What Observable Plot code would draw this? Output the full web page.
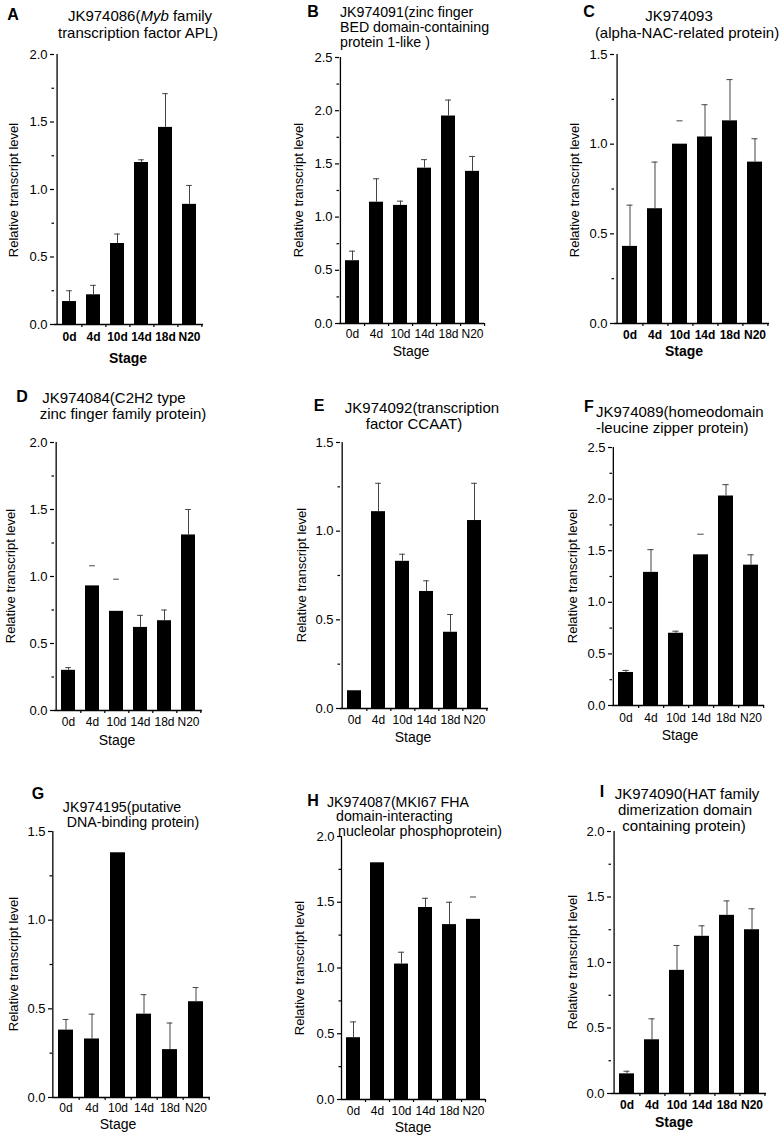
<!DOCTYPE html>
<html><head><meta charset="utf-8">
<script src="https://cdn.jsdelivr.net/npm/d3@7"></script>
<script src="https://cdn.jsdelivr.net/npm/@observablehq/plot@0.6"></script>
<style>
body{margin:0;background:#fff}
#root{position:relative;width:783px;height:1136px;overflow:hidden;font-family:"Liberation Sans",Arial,Helvetica,sans-serif;color:#000}
.t{position:absolute;white-space:nowrap;line-height:1}
.pl{position:absolute}
</style></head>
<body><div id="root"></div>
<script>
// ---------- data ----------
const stages = ["0d","4d","10d","14d","18d","N20"];

const valuesA = [0.17,0.22,0.60,1.20,1.46,0.89];
const errTopA = [0.25,0.29,0.67,1.22,1.71,1.03];
const valuesB = [0.59,1.14,1.11,1.46,1.95,1.43];
const errTopB = [0.68,1.36,1.15,1.54,2.10,1.57];
const valuesC = [0.43,0.64,1.00,1.04,1.13,0.90];
const errTopC = [0.66,0.90,1.13,1.22,1.36,1.03];
const valuesD = [0.30,0.93,0.74,0.62,0.67,1.31];
const errTopD = [0.32,1.08,0.98,0.71,0.75,1.50];
const valuesE = [0.10,1.11,0.83,0.66,0.43,1.06];
const errTopE = [0.10,1.27,0.87,0.72,0.53,1.27];
const valuesF = [0.32,1.29,0.70,1.46,2.03,1.36];
const errTopF = [0.34,1.51,0.72,1.66,2.14,1.46];
const valuesG = [0.38,0.33,1.38,0.47,0.27,0.54];
const errTopG = [0.44,0.47,1.38,0.58,0.42,0.62];
const valuesH = [0.47,1.80,1.03,1.46,1.33,1.37];
const errTopH = [0.59,1.80,1.12,1.53,1.50,1.54];
const valuesI = [0.15,0.41,0.94,1.20,1.36,1.25];
const errTopI = [0.17,0.57,1.13,1.28,1.47,1.41];

// error bars drawn as a cap only (stem not visible in the figure)
const capOnlyC = ["10d"];
const capOnlyD = ["4d","10d"];
const capOnlyF = ["14d"];
const capOnlyH = ["N20"];

const ticksA = [0,0.5,1.0,1.5,2.0];
const ticksB = [0,0.5,1.0,1.5,2.0,2.5];
const ticksC = [0,0.5,1.0,1.5];
const ticksD = [0,0.5,1.0,1.5,2.0];
const ticksE = [0,0.5,1.0,1.5];
const ticksF = [0,0.5,1.0,1.5,2.0,2.5];
const ticksG = [0,0.5,1.0,1.5];
const ticksH = [0,0.5,1.0,1.5,2.0];
const ticksI = [0,0.5,1.0,1.5,2.0];

const titleA = ["JK974086(<i>Myb</i> family","transcription factor APL)"];
const titleB = ["JK974091(zinc finger","BED domain-containing","protein 1-like )"];
const titleC = ["JK974093","(alpha-NAC-related protein)"];
const titleD = ["JK974084(C2H2 type","zinc finger family protein)"];
const titleE = ["JK974092(transcription","factor CCAAT)"];
const titleF = ["JK974089(homeodomain","-leucine zipper protein)"];
const titleG = ["JK974195(putative","DNA-binding protein)"];
const titleH = ["JK974087(MKI67 FHA","domain-interacting","nucleolar phosphoprotein)"];
const titleI = ["JK974090(HAT family","dimerization domain","containing protein)"];

const xLabel = "Stage";
const yLabel = "Relative transcript level";

// ---------- layout ----------
const panels = [
 {id:"A", values:valuesA, errs:errTopA, capOnly:[], ticks:ticksA, title:titleA, ts:15,
  ax:54, top:54, y0:324, xr:203, tickY:338, stage:[128,358], ylab:[13,190], letter:[13,15], align:"c", lines:[[140,15],[138,32]], bold:true},
 {id:"B", values:valuesB, errs:errTopB, capOnly:[], ticks:ticksB, title:titleB, ts:14.2,
  ax:339, top:57, y0:323, xr:484, tickY:335, stage:[411,351], ylab:[298,190], letter:[313,12], align:"l", lines:[[340,11.5],[340,26.5],[340,41.5]], bold:false},
 {id:"C", values:valuesC, errs:errTopC, capOnly:capOnlyC, ticks:ticksC, title:titleC, ts:15,
  ax:614, top:54, y0:323, xr:769, tickY:336, stage:[684,351], ylab:[574,190], letter:[589,12], align:"c", lines:[[679,15],[687,32]], bold:true},
 {id:"D", values:valuesD, errs:errTopD, capOnly:capOnlyD, ticks:ticksD, title:titleD, ts:15,
  ax:54, top:442, y0:710, xr:202, tickY:723, stage:[117,740], ylab:[10,576], letter:[22,397], align:"c", lines:[[114,397],[123,413]], bold:false},
 {id:"E", values:valuesE, errs:errTopE, capOnly:[], ticks:ticksE, title:titleE, ts:15,
  ax:340, top:442, y0:708, xr:488, tickY:721, stage:[413,737], ylab:[301,575], letter:[319,406], align:"c", lines:[[422,407],[414,423]], bold:false},
 {id:"F", values:valuesF, errs:errTopF, capOnly:capOnlyF, ticks:ticksF, title:titleF, ts:15,
  ax:612, top:447, y0:705, xr:764, tickY:719, stage:[680,735], ylab:[572,576], letter:[589,407], align:"l", lines:[[596,411],[596,427]], bold:false},
 {id:"G", values:valuesG, errs:errTopG, capOnly:[], ticks:ticksG, title:titleG, ts:14.2,
  ax:52, top:831, y0:1097, xr:210, tickY:1109, stage:[118,1124], ylab:[13,964], letter:[38,794], align:"c", lines:[[122,806.5],[133,821.5]], bold:false},
 {id:"H", values:valuesH, errs:errTopH, capOnly:capOnlyH, ticks:ticksH, title:titleH, ts:14.2,
  ax:341, top:836, y0:1099, xr:485, tickY:1112, stage:[413,1127], ylab:[299,968], letter:[313,801], align:"l", lines:[[327,801.5],[336,816],[338,830.5]], bold:false},
 {id:"I", values:valuesI, errs:errTopI, capOnly:[], ticks:ticksI, title:titleI, ts:15,
  ax:611, top:831, y0:1093, xr:766, tickY:1106, stage:[674,1122], ylab:[572,962], letter:[602,792], align:"c", lines:[[687,793],[685,809],[684,825]], bold:true}
];

const root = document.getElementById("root");
const FONT = '"Liberation Sans", Arial, Helvetica, sans-serif';

function addText(html, x, y, css, align) {
  const d = document.createElement("div");
  d.className = "t";
  d.innerHTML = html;
  d.style.left = x + "px";
  d.style.top = y + "px";
  d.style.transform = align === "l" ? "translate(0,-50%)" : "translate(-50%,-50%)";
  Object.assign(d.style, css);
  root.appendChild(d);
  return d;
}

for (const p of panels) {
  const data = stages.map((s, i) => ({stage: s, value: p.values[i], err: p.errs[i]}));
  const ymax = p.ticks[p.ticks.length - 1];
  const minor = p.ticks.slice(1).map((t, i) => (t + p.ticks[i]) / 2);
  const ml = 50, mr = 10, mt = 12, mb = 40;
  const width = p.xr - p.ax + ml + mr;
  const height = p.y0 - p.top + mt + mb;
  const step = (p.xr - p.ax) / stages.length;
  const weight = p.bold ? "bold" : "normal";
  const capInset = (step * 0.58 - 6) / 2;

  const chart = Plot.plot({
    width, height,
    marginLeft: ml, marginRight: mr, marginTop: mt, marginBottom: mb,
    style: {fontFamily: FONT, fontSize: "13px", background: "transparent", overflow: "visible", color: "#000"},
    x: {domain: stages, paddingInner: 0.42, paddingOuter: 0.21},
    y: {domain: [0, ymax]},
    marks: [
      Plot.barY(data, {x: "stage", y: "value", fill: "#000"}),
      Plot.ruleX(data.filter(d => d.err > d.value && !p.capOnly.includes(d.stage)),
        {x: "stage", y1: "value", y2: "err", stroke: "#444", strokeWidth: 1}),
      Plot.tickY(data.filter(d => d.err > d.value),
        {x: "stage", y: "err", stroke: "#444", strokeWidth: 1, insetLeft: capInset, insetRight: capInset}),
      // axis lines
      Plot.ruleY([0], {stroke: "#000", strokeWidth: 1.3}),
      Plot.ruleX([stages[0]], {y1: 0, y2: ymax, dx: -step / 2, stroke: "#000", strokeWidth: 1.3}),
      // y axis: major with labels, minor without
      Plot.axisY({ticks: p.ticks, tickSize: 4, tickPadding: 3, tickFormat: d3.format(".1f"), label: null, fontSize: 13, strokeWidth: 1.2}),
      Plot.axisY({ticks: minor, tickSize: 2.5, tickFormat: () => "", label: null, strokeWidth: 1.2}),
      // x axis labels and boundary ticks
      Plot.axisX({tickSize: 0, tickPadding: p.tickY - p.y0 - 6, label: null, fontSize: 12, fontWeight: weight}),
      Plot.axisX({tickSize: 3, text: null, dx: step / 2, label: null, strokeWidth: 1.2})
    ]
  });
  const wrap = document.createElement("div");
  wrap.className = "pl";
  wrap.style.left = (p.ax - ml) + "px";
  wrap.style.top = (p.top - mt) + "px";
  wrap.style.width = width + "px";
  wrap.appendChild(chart);
  root.appendChild(wrap);

  // texts
  addText(p.id, p.letter[0], p.letter[1], {fontSize: "16px", fontWeight: "bold"}, "c");
  p.title.forEach((line, i) => {
    addText(line, p.lines[i][0], p.lines[i][1], {fontSize: p.ts + "px", lineHeight: "1"}, p.align);
  });
  addText(xLabel, p.stage[0], p.stage[1], {fontSize: "14px", fontWeight: weight}, "c");
  const yl = addText(yLabel, p.ylab[0], p.ylab[1], {fontSize: "13px"}, "c");
  yl.style.transform = "translate(-50%,-50%) rotate(-90deg)";
}
</script>
</body></html>
